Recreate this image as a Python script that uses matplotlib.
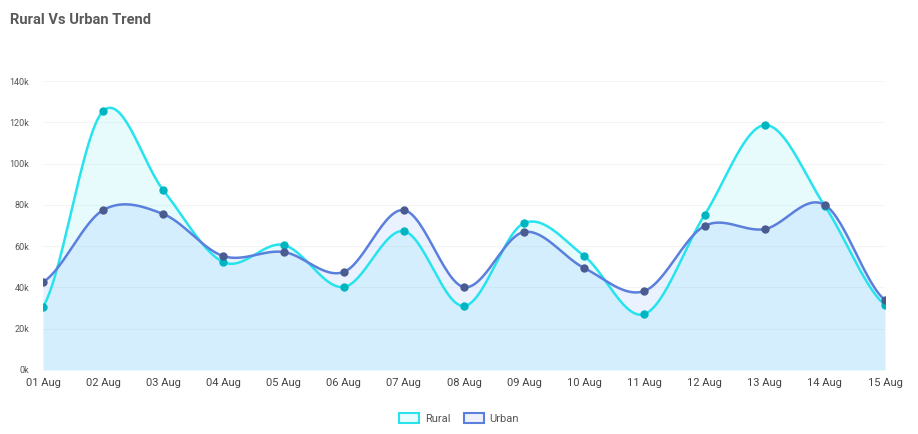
import numpy as np
import matplotlib.pyplot as plt
from matplotlib.patches import Patch

plt.rcParams['font.family'] = ['Roboto', 'DejaVu Sans']

dates = ['01 Aug', '02 Aug', '03 Aug', '04 Aug', '05 Aug', '06 Aug', '07 Aug', '08 Aug',
         '09 Aug', '10 Aug', '11 Aug', '12 Aug', '13 Aug', '14 Aug', '15 Aug']
rural = [30.5, 125.5, 87.2, 52.3, 60.6, 40.2, 67.3, 31.0, 71.2, 55.2, 27.1, 75.1, 118.7, 79.5, 31.5]
urban = [42.6, 77.5, 75.6, 55.2, 57.2, 47.5, 77.5, 40.2, 66.9, 49.4, 38.3, 69.8, 68.3, 80.0, 33.9]
yticks = [0, 20, 40, 60, 80, 100, 120, 140]

rural_col = '#26e3ee'
rural_mk = '#00b5c2'
urban_col = '#5b7fdc'
urban_mk = '#4a5b8f'


# catmull-rom style smoothing, like the web chart's "smooth" curve
def smooth(y, n=30):
    y = np.asarray(y, float)
    x = np.arange(len(y), dtype=float)
    yp = np.concatenate([[y[0]], y, [y[-1]]])
    xs, ys = [], []
    for i in range(len(y) - 1):
        p0, p1, p2, p3 = yp[i], yp[i + 1], yp[i + 2], yp[i + 3]
        m1 = (p2 - p0) / 2
        m2 = (p3 - p1) / 2
        t = np.linspace(0, 1, n, endpoint=False)
        h00 = 2 * t**3 - 3 * t**2 + 1
        h10 = t**3 - 2 * t**2 + t
        h01 = -2 * t**3 + 3 * t**2
        h11 = t**3 - t**2
        xs.append(x[i] + t)
        ys.append(h00 * p1 + h10 * m1 + h01 * p2 + h11 * m2)
    xs.append([x[-1]])
    ys.append([y[-1]])
    return np.concatenate(xs), np.concatenate(ys)


fig = plt.figure(figsize=(9.18, 4.34), dpi=100)
ax = fig.add_axes([0.0468, 0.1475, 0.9172, 0.6655])

x = np.arange(len(dates))
xu, yu = smooth(urban)
xr, yr = smooth(rural)

ax.fill_between(xr, 0, yr, color=rural_col, alpha=0.11, lw=0)
ax.fill_between(xu, 0, yu, color='#72a8ff', alpha=0.15, lw=0)
ax.plot(xr, yr, color=rural_col, lw=1.8, zorder=3)
ax.plot(xu, yu, color=urban_col, lw=1.8, zorder=3)
ax.plot(x, rural, 'o', color=rural_mk, ms=5, zorder=4)
ax.plot(x, urban, 'o', color=urban_mk, ms=5, zorder=4)

ax.set_xlim(0, len(dates) - 1)
ax.set_ylim(0, 140)
ax.set_xticks(x)
ax.set_xticklabels(dates, fontsize=8, color='#444444')
ax.set_yticks(yticks)
ax.set_yticklabels([f'{v}k' for v in yticks], fontsize=6.5, color='#555555')
ax.tick_params(length=0, pad=6)
ax.tick_params(axis='y', pad=10)
ax.grid(axis='y', color='#f4f4f4', lw=0.8)
ax.set_axisbelow(True)
for s in ax.spines.values():
    s.set_visible(False)

fig.text(0.011, 0.955, 'Rural Vs Urban Trend', fontsize=10.5, fontweight='bold',
         color='#5a5a5a', va='center')

handles = [Patch(facecolor='#e8fbfd', edgecolor=rural_col, lw=1.5, label='Rural'),
           Patch(facecolor='#eef1fb', edgecolor=urban_col, lw=1.5, label='Urban')]
fig.legend(handles=handles, loc='center', bbox_to_anchor=(0.5, 0.035), ncol=2,
           frameon=False, fontsize=8, handlelength=1.8, handleheight=1.0,
           columnspacing=1.2, handletextpad=0.5, labelcolor='#555555')

fig.savefig('out.png', dpi=100, facecolor='white')
